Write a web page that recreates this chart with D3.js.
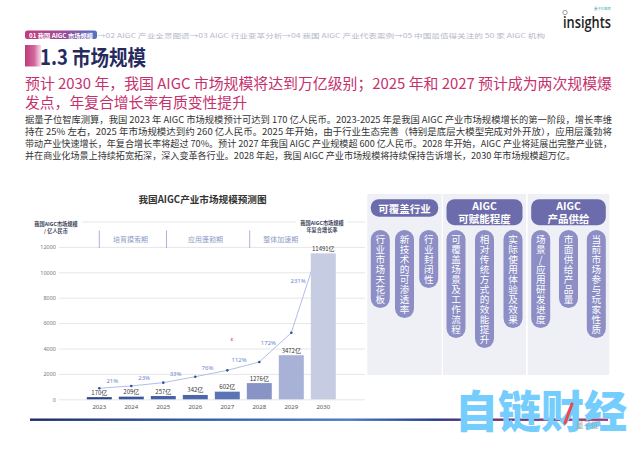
<!DOCTYPE html>
<html><head><meta charset="utf-8">
<script src="https://cdn.jsdelivr.net/npm/d3@7"></script>
<style>body{margin:0;background:#fff}svg{display:block}text{font-family:"Noto Sans CJK SC","Noto Sans",sans-serif}</style>
</head><body><svg id="c" width="640" height="453"></svg>
<script>
// ---------------- data ----------------
const years = ["2023","2024","2025","2026","2027","2028","2029","2030"];
const marketSize = [170,209,257,342,602,1276,3472,11491];
const growthLine = [870,1050,1310,1780,2280,2940,5240,13000];
const growthLabels = ["21%","23%","33%","76%","112%","172%","231%"];
const yTicks = [0,2000,4000,6000,8000,10000,12000,14000];
const stageNames = ["培育摸索期","应用蓬勃期","整体加速期"];
const stageBounds = [2023, 2025.1, 2027.7, 2029.8];
const groupTitles = [["可覆盖行业"],["AIGC","可赋能程度"],["AIGC","产品供给"]];
const groupItems = [
  ["行业市场天花板","新技术的可渗透率","行业封闭性"],
  ["可覆盖场景及工作流程","相对传统方式的效能提升","实际使用体验及效果"],
  ["场景/应用研发进度","市面供给产品量","当前市场参与玩家性质"]
];
const crumbs = "→02 AIGC 产业全景图谱→03 AIGC 行业变革分析→04 我国 AIGC 产业代表案例→05 中国最值得关注的 50 家 AIGC 机构";
const subtitle = ["预计 2030 年，我国 AIGC 市场规模将达到万亿级别；2025 年和 2027 预计成为两次规模爆","发点，年复合增长率有质变性提升"];
const para = [
 "据量子位智库测算，我国 2023 年 AIGC 市场规模预计可达到 170 亿人民币。2023-2025 年是我国 AIGC 产业市场规模增长的第一阶段，增长率维",
 "持在 25% 左右，2025 年市场规模达到约 260 亿人民币。2025 年开始，由于行业生态完善（特别是底层大模型完成对外开放），应用层蓬勃将",
 "带动产业快速增长，年复合增长率将超过 70%。预计 2027 年我国 AIGC 产业规模超 600 亿人民币。2028 年开始，AIGC 产业将延展出完整产业链，",
 "并在商业化场景上持续拓宽拓深，深入变革各行业。2028 年起，我国 AIGC 产业市场规模将持续保持告诉增长，2030 年市场规模超万亿。"
];
const barColors = ["#2b4588","#3a559d","#4361a8","#4a66ad","#5b74b6","#8794c5","#a8b2d6","#c6cce1"];

// ---------------- setup ----------------
const svg = d3.select("#c");
const defs = svg.append("defs");
function lg(id, stops){
  const g = defs.append("linearGradient").attr("id",id).attr("x1","0").attr("x2","1").attr("y1","0").attr("y2","0");
  stops.forEach(s=>g.append("stop").attr("offset",s[0]).attr("stop-color",s[1]).attr("stop-opacity",s[2]===undefined?1:s[2]));
}
lg("gPill",[[0,"#c23c7c"],[0.55,"#9a4d9a"],[1,"#4f74c4"]]);
lg("gTitle",[[0,"#be3a79"],[0.6,"#d46a9e"],[1,"#e9c3d8",0.6]]);
lg("gBottom",[[0,"#1b2c63"],[0.3,"#3260a8"],[0.55,"#4a7cc4"],[0.7,"#233a85"],[0.78,"#6a2d6e"],[1,"#a8386f"]]);

// ---------------- header ----------------
svg.append("rect").attr("x",25).attr("y",30.5).attr("width",72).attr("height",8.5).attr("rx",2.5).attr("fill","url(#gPill)");
svg.append("text").attr("x",29).attr("y",35).attr("dominant-baseline","central")
  .attr("font-size",6.2).attr("font-weight",700).attr("fill","#fff").attr("textLength",64).attr("lengthAdjust","spacingAndGlyphs").text("01 我国 AIGC 市场规模");
svg.append("text").attr("x",97).attr("y",35).attr("dominant-baseline","central")
  .attr("font-size",6.2).attr("fill","#b6b9ca").attr("textLength",448).attr("lengthAdjust","spacingAndGlyphs").text(crumbs);

// insights logo
svg.append("text").attr("x",563).attr("y",27.5).attr("font-size",16).attr("font-weight",600)
  .attr("fill","#222").style("font-family","'Open Sans',sans-serif").attr("textLength",48).attr("lengthAdjust","spacingAndGlyphs").text("insights");
svg.append("circle").attr("cx",565).attr("cy",12.5).attr("r",2.2).attr("fill","none").attr("stroke","#888").attr("stroke-width",0.8);
svg.append("text").attr("x",594).attr("y",10).attr("font-size",3.4).attr("fill","#48b0b8").text("量子位智库");

// title
svg.append("rect").attr("x",25).attr("y",45).attr("width",16).attr("height",21.5).attr("fill","url(#gTitle)");
svg.append("text").attr("x",40).attr("y",56).attr("dominant-baseline","central").attr("font-size",21).attr("font-weight",700)
  .attr("fill","#262a5e").attr("textLength",106).attr("lengthAdjust","spacingAndGlyphs").text("1.3 市场规模");

// subtitle
svg.append("text").attr("x",25).attr("y",82.7).attr("dominant-baseline","central").attr("font-size",14.8)
  .attr("fill","#c5306d").attr("textLength",587).attr("lengthAdjust","spacingAndGlyphs").text(subtitle[0]);
svg.append("text").attr("x",25).attr("y",101.7).attr("dominant-baseline","central").attr("font-size",14.8)
  .attr("fill","#c5306d").text(subtitle[1]);

// paragraph
const paraLen = [587,587,587,550];
para.forEach((t,i)=>{
  svg.append("text").attr("x",25).attr("y",119.5+i*12).attr("dominant-baseline","central").attr("font-size",9)
    .attr("fill","#333").attr("textLength",paraLen[i]).attr("lengthAdjust","spacingAndGlyphs").text(t);
});

// ---------------- chart ----------------
const x = d3.scaleBand().domain(years).range([83.3,339.3]).paddingInner(0.22).paddingOuter(0.11);
const y = d3.scaleLinear().domain([0,14000]).range([399.3,221.5]);
const bw = x.bandwidth();
const cx = d => x(d)+bw/2;
const yearPos = d3.scaleLinear().domain([2023,2030]).range([cx("2023"),cx("2030")]);

svg.append("text").attr("x",202.5).attr("y",199).attr("dominant-baseline","central").attr("text-anchor","middle")
  .attr("font-size",9.6).attr("font-weight",700).attr("fill","#333").text("我国AIGC产业市场规模预测图");

const ya = svg.append("g").attr("transform","translate(59,0)")
  .call(d3.axisLeft(y).tickValues(yTicks).tickSize(-306).tickPadding(3).tickFormat(d=>d===14000?"":d));
ya.select(".domain").remove();
ya.selectAll("line").attr("stroke","#e6e6e6");
ya.selectAll("text").attr("font-size",5.5).attr("fill","#777").style("font-family","'Noto Sans',sans-serif");

const xa = svg.append("g").attr("transform","translate(0,399.3)")
  .call(d3.axisBottom(x).tickSize(0).tickPadding(5));
xa.select(".domain").remove();
xa.selectAll("text").attr("font-size",6).attr("fill","#555").style("font-family","'Noto Sans',sans-serif");

// stages
stageBounds.slice(0,3).forEach(b=>{
  svg.append("line").attr("x1",yearPos(b)).attr("x2",yearPos(b)).attr("y1",230.5).attr("y2",248)
    .attr("stroke","#a9b5d5").attr("stroke-width",1);
});
stageNames.forEach((s,i)=>{
  svg.append("text").attr("x",yearPos((stageBounds[i]+stageBounds[i+1])/2)-2.5).attr("y",238.5)
    .attr("dominant-baseline","central").attr("text-anchor","middle").attr("font-size",7).attr("fill","#8e9cc6").text(s);
});

// growth line (behind bars, clipped at top of tallest bar)
defs.append("clipPath").attr("id","lineClip").append("rect")
  .attr("x",0).attr("y",y(d3.max(marketSize))).attr("width",640).attr("height",y(0)-y(d3.max(marketSize)));
const pts = years.map((d,i)=>[cx(d), y(growthLine[i])]);
svg.append("path").attr("d",d3.line()(pts)).attr("fill","none").attr("stroke","#aab6e2").attr("stroke-width",0.9).attr("clip-path","url(#lineClip)");
svg.selectAll(".pt").data(pts.slice(0,7)).join("circle").attr("cx",d=>d[0]).attr("cy",d=>d[1]).attr("r",1.3).attr("fill","#2f4f9f");
growthLabels.forEach((t,i)=>{
  const a=pts[i], b=pts[i+1];
  const dx=b[0]-a[0], dy=b[1]-a[1], L=Math.hypot(dx,dy);
  const nx = dy/L, ny = -dx/L;
  const off = 6.5;
  const steep = Math.abs(dy)>Math.abs(dx);
  svg.append("text").attr("x",(a[0]+b[0])/2+nx*off-(steep?3:2.5)).attr("y",(a[1]+b[1])/2+ny*off+(steep?0:0.5))
    .attr("dominant-baseline","central").attr("text-anchor","middle").attr("font-size",6)
    .attr("fill","#6b87d3").style("font-family","'Noto Sans',sans-serif").text(t);
});

// bars
svg.selectAll(".bar").data(marketSize).join("rect")
  .attr("x",(d,i)=>x(years[i])).attr("y",d=>y(d)).attr("width",bw).attr("height",d=>y(0)-y(d))
  .attr("fill",(d,i)=>barColors[i]);
svg.selectAll(".bl").data(marketSize).join("text")
  .attr("x",(d,i)=>cx(years[i])).attr("y",d=>y(d)-5).attr("dominant-baseline","central").attr("text-anchor","middle")
  .attr("font-size",6).attr("fill","#333").text(d=>d+"亿");

svg.append("text").attr("x",232).attr("y",338.5).attr("dominant-baseline","central").attr("text-anchor","middle")
  .attr("font-size",6).attr("fill","#e0408a").text("ɛ");

// axis title boxes
function twoLine(cxp, y1, y2, l1, l2){
  const t = svg.append("text").attr("text-anchor","middle").attr("font-size",5.2).attr("font-weight",700).attr("fill","#3a3f5a");
  t.append("tspan").attr("x",cxp).attr("y",y1).attr("dominant-baseline","central").text(l1);
  t.append("tspan").attr("x",cxp).attr("y",y2).attr("dominant-baseline","central").text(l2);
}
svg.append("rect").attr("x",30).attr("y",218.5).attr("width",52).attr("height",18).attr("fill","#fff");
twoLine(56,223.3,230.7,"我国AIGC市场规模","/ 亿人民币");
svg.append("rect").attr("x",296).attr("y",215).attr("width",52).attr("height",18).attr("fill","#fff");
twoLine(322,222.7,229.3,"我国AIGC市场规模","年复合增长率");

// ---------------- right panel ----------------
const cols = [[367.3,441.7],[443,526],[527.7,609.3]];
cols.forEach((c,gi)=>{
  svg.append("rect").attr("x",c[0]).attr("y",194).attr("width",c[1]-c[0]).attr("height",181).attr("fill","#eff0f5");
  const px0 = c[0]+3.5, px1 = c[1]-3.5;
  const two = groupTitles[gi].length>1;
  svg.append("rect").attr("x",px0).attr("y",199.2).attr("width",px1-px0).attr("height",two?26:17.5).attr("rx",8).attr("fill","#6c6bab");
  const ht = svg.append("text").attr("text-anchor","middle").attr("font-size",10.5).attr("font-weight",700).attr("fill","#fff");
  groupTitles[gi].forEach((t,li)=>{
    ht.append("tspan").attr("x",(px0+px1)/2).attr("y",two?205.8+li*12.6:208).attr("dominant-baseline","central").text(t);
  });
  const pw = 19, step = (px1-px0-pw)/2;
  groupItems[gi].forEach((item,ii)=>{
    const n = Array.from(item).length;
    const xx = px0+ii*step;
    svg.append("rect").attr("x",xx).attr("y",230).attr("width",pw).attr("height",n*10+8).attr("rx",9.5).attr("fill","#8c8ec5");
    svg.append("text").attr("x",xx+pw/2).attr("y",234.2)
      .style("writing-mode","vertical-rl").style("text-orientation","upright")
      .attr("font-size",9.6).attr("letter-spacing",0.4).attr("fill","#fff").text(item);
  });
});

// bottom gradient line
svg.append("rect").attr("x",30).attr("y",418.5).attr("width",578).attr("height",2.4).attr("fill","url(#gBottom)");

// watermark
svg.append("text").attr("x",455).attr("y",428).attr("font-size",44).attr("font-weight",900).attr("fill","#74cdfc")
  .attr("textLength",172).attr("lengthAdjust","spacingAndGlyphs").text("自链财经");
svg.append("line").attr("x1",572).attr("y1",404).attr("x2",565).attr("y2",423).attr("stroke","#f04848").attr("stroke-width",3).attr("stroke-linecap","round");
svg.append("text").attr("x",576).attr("y",428).attr("font-size",7.5).attr("fill","#9aa").text("量子位");
</script></body></html>
